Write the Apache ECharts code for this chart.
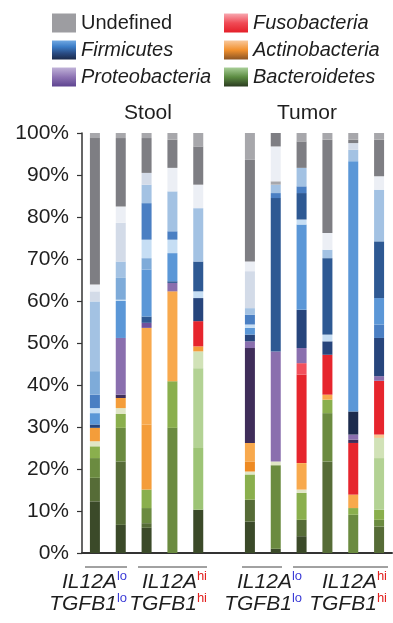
<!DOCTYPE html>
<html>
<head>
<meta charset="utf-8">
<script src="https://cdn.jsdelivr.net/npm/echarts@6/dist/echarts.min.js"></script>
<style>
  html, body { margin: 0; padding: 0; background: #fff; }
  #chart { width: 393px; height: 623px; }
</style>
</head>
<body>
<div id="chart"></div>
<script>
// Sample slots along the x axis; the empty slot separates stool from tumor samples.
const categories = ['S1', 'S2', 'S3', 'S4', 'S5', '', 'T1', 'T2', 'T3', 'T4', 'T5', 'T6'];

// Phylum legend entries
const phyla = ['Undefined', 'Firmicutes', 'Proteobacteria', 'Fusobacteria', 'Actinobacteria', 'Bacteroidetes'];

// Per-sample taxa (bottom to top) and their relative abundance in %.
// Letter = phylum (U Undefined, F Firmicutes, P Proteobacteria, R Fusobacteria,
// A Actinobacteria, G Bacteroidetes), suffix = lower-level taxon within it.
const stool1Taxa = ['G6', 'G5', 'G4', 'G3', 'G0', 'A2', 'F8', 'F5', 'F2', 'F6', 'F4', 'F3', 'F1', 'F0', 'U2', 'U1'];
const stool1Pct  = [12.3, 5.6, 4.7, 2.8, 1.2, 3.2, 0.8, 2.7, 1.2, 3.2, 5.6, 16.6, 2.4, 1.6, 34.9, 1.2];

const stool2Taxa = ['G6', 'G5', 'G4', 'G3', 'G0', 'A2', 'P2', 'P1', 'F5', 'F2', 'F4', 'F3', 'F1', 'F0', 'U2', 'U1'];
const stool2Pct  = [6.7, 15.1, 8.0, 3.3, 1.4, 2.4, 0.8, 13.5, 8.8, 0.3, 5.2, 3.9, 9.2, 3.9, 16.3, 1.2];

const stool3Taxa = ['G6', 'G5', 'G4', 'G3', 'A2', 'A1', 'P3', 'F7', 'F5', 'F4', 'F2', 'F6', 'F3', 'F1', 'U2', 'U1'];
const stool3Pct  = [6.0, 1.1, 3.6, 4.4, 15.5, 23.0, 1.2, 1.5, 11.2, 2.7, 4.4, 8.7, 4.4, 2.8, 8.3, 1.2];

const stool4Taxa = ['G4', 'G3', 'A1', 'P1', 'F7', 'F5', 'F2', 'F6', 'F3', 'F0', 'U2', 'U1'];
const stool4Pct  = [29.8, 11.1, 21.4, 2.0, 0.4, 6.7, 3.2, 2.0, 9.5, 5.6, 6.7, 1.6];

const stool5Taxa = ['G6', 'Gm', 'Gl', 'Gp', 'A2', 'R2', 'F8', 'F2', 'F7', 'F3', 'F0', 'U2', 'U1'];
const stool5Pct  = [10.3, 14.7, 19.0, 4.0, 1.2, 6.0, 5.5, 1.6, 7.1, 12.7, 5.6, 9.1, 3.2];

const tumor1Taxa = ['G6', 'G5', 'G3', 'G0', 'A3', 'A1', 'P2', 'P1', 'F8', 'F5', 'F2', 'F6', 'F3', 'F1', 'F0', 'U2', 'U1'];
const tumor1Pct  = [7.5, 5.2, 6.0, 0.7, 2.4, 4.4, 22.6, 1.6, 1.6, 1.6, 0.8, 2.3, 1.6, 8.8, 2.3, 24.2, 6.4];

const tumor2Taxa = ['G6', 'G4', 'G0', 'P1', 'F7', 'F6', 'F3', 'U1', 'F0', 'U2'];
const tumor2Pct  = [1.0, 19.9, 0.9, 26.2, 36.5, 1.2, 2.0, 0.8, 8.3, 3.2];

const tumor3Taxa = ['G6', 'G5', 'G3', 'G0', 'A1', 'R2', 'R1', 'P1', 'F8', 'F5', 'F2', 'F7', 'F6', 'F3', 'U2', 'U1'];
const tumor3Pct  = [4.0, 3.9, 6.4, 0.8, 6.3, 21.1, 2.7, 3.6, 9.1, 20.3, 1.2, 6.3, 1.6, 4.4, 6.3, 2.0];

const tumor4Taxa = ['G5', 'G4', 'G3', 'A1', 'R2', 'F8', 'F2', 'F7', 'F3', 'F0', 'U2', 'U1'];
const tumor4Pct  = [21.8, 11.5, 3.2, 1.2, 9.5, 3.2, 1.6, 18.2, 2.0, 4.0, 22.2, 1.6];

const tumor5Taxa = ['G4', 'G3', 'A1', 'R2', 'P2', 'P1', 'F9', 'F5', 'F3', 'F1', 'U2', 'U1'];
const tumor5Pct  = [9.1, 1.6, 3.2, 12.3, 0.8, 1.2, 5.5, 59.6, 2.7, 1.6, 0.8, 1.6];

const tumor6Taxa = ['G5', 'G4', 'G3', 'Gl', 'Gp', 'A0', 'R2', 'P1', 'F8', 'F6', 'F5', 'F7', 'F3', 'F0', 'U2', 'U1'];
const tumor6Pct  = [6.3, 1.6, 2.4, 12.3, 4.8, 0.8, 12.8, 1.1, 9.1, 3.2, 6.3, 13.5, 12.3, 3.2, 8.7, 1.6];

// Y axis ticks
const yTicks = [0, 10, 20, 30, 40, 50, 60, 70, 80, 90, 100];

// Sample groups under the axis
const groupGene1 = ['lo', 'hi', 'lo', 'hi'];
const groupGene2 = ['lo', 'hi', 'lo', 'hi'];

// ---------- styling ----------
const shade = {
  U1: '#a7a7ab', U2: '#7e7e83',
  F0: '#eceff5', F1: '#d3dbe8', F2: '#c6def4', F3: '#a3c2e3', F4: '#7eabd9',
  F5: '#5b97d7', F6: '#4a7fc3', F7: '#2e5993', F8: '#27457c', F9: '#1c2b4d',
  P1: '#8a6fae', P2: '#3f2d5a', P3: '#6f519e',
  R1: '#f2505c', R2: '#e6252d',
  A0: '#f7c68e', A1: '#f8a94d', A2: '#f49d3a', A3: '#ee8a22',
  G0: '#e0e6c6', Gp: '#d1e2b7', Gl: '#b3d294', Gm: '#9dc476',
  G3: '#8aaf4d', G4: '#6b8b40', G5: '#566c37', G6: '#3b4a29'
};

const grad = (stops) => ({
  type: 'linear', x: 0, y: 0, x2: 0, y2: 1,
  colorStops: stops.map((c, i) => ({ offset: i / (stops.length - 1), color: c }))
});
const legendColor = {
  Undefined: grad(['#9d9da1', '#9d9da1']),
  Firmicutes: grad(['#6fa8e2', '#3b7cc6', '#2a4c84', '#1b2a4a']),
  Proteobacteria: grad(['#c0b2d8', '#8e74b4', '#5e4490']),
  Fusobacteria: grad(['#f7a8b0', '#f04a55', '#e41f29']),
  Actinobacteria: grad(['#f9c89c', '#f2912e', '#8c5424']),
  Bacteroidetes: grad(['#a9cf98', '#5c8c42', '#2b3b20'])
};

const FONT = 'Liberation Sans, Arial, sans-serif';
const TEXT = '#1e1e1e';

const samples = [
  [stool1Taxa, stool1Pct], [stool2Taxa, stool2Pct], [stool3Taxa, stool3Pct],
  [stool4Taxa, stool4Pct], [stool5Taxa, stool5Pct], null,
  [tumor1Taxa, tumor1Pct], [tumor2Taxa, tumor2Pct], [tumor3Taxa, tumor3Pct],
  [tumor4Taxa, tumor4Pct], [tumor5Taxa, tumor5Pct], [tumor6Taxa, tumor6Pct]
];
const depth = Math.max(...samples.filter(Boolean).map(s => s[1].length));

const series = [];
for (let k = 0; k < depth; k++) {
  series.push({
    type: 'bar',
    stack: 'abundance',
    barWidth: 10,
    silent: true,
    data: samples.map(s => {
      if (!s || k >= s[1].length) return '-';
      return { value: s[1][k], itemStyle: { color: shade[s[0][k]] } };
    })
  });
}
// Legend entries (no bars of their own)
phyla.forEach(name => {
  series.push({ type: 'bar', name, stack: 'abundance', barWidth: 10, data: [], itemStyle: { color: legendColor[name] } });
});

const legendItem = name => ({
  name, icon: 'rect',
  textStyle: { fontStyle: name === 'Undefined' ? 'normal' : 'italic' }
});
const legendBase = {
  orient: 'vertical', top: 8, itemWidth: 24, itemHeight: 19, itemGap: 7,
  selectedMode: false,
  textStyle: { fontSize: 20, color: TEXT, fontFamily: FONT }
};

// Group annotation: underline span and right edge of the label
const groupSpans = [[85, 127], [138, 207], [242, 282], [293, 388]];
const labelRight = [127, 207, 302, 387];
const supColor = { lo: '#3b3bd6', hi: '#e2201f' };

const graphic = [
  { type: 'text', style: { text: 'Stool', x: 148, y: 113, align: 'center', verticalAlign: 'middle', fontSize: 21, fontFamily: FONT, fill: TEXT } },
  { type: 'text', style: { text: 'Tumor', x: 307, y: 113, align: 'center', verticalAlign: 'middle', fontSize: 21, fontFamily: FONT, fill: TEXT } }
];

const richStyles = {
  g: { fontSize: 21, fontStyle: 'italic', fontFamily: FONT, fill: TEXT, color: TEXT, lineHeight: 24 },
  lo: { fontSize: 13, fontFamily: FONT, fill: supColor.lo, color: supColor.lo, verticalAlign: 'top', lineHeight: 13 },
  hi: { fontSize: 13, fontFamily: FONT, fill: supColor.hi, color: supColor.hi, verticalAlign: 'top', lineHeight: 13 }
};
groupSpans.forEach((sp, i) => {
  graphic.push({ type: 'line', shape: { x1: sp[0], y1: 567, x2: sp[1], y2: 567 }, style: { stroke: '#444', lineWidth: 1 } });
  graphic.push({ type: 'text', style: { text: '{g|IL12A}{' + groupGene1[i] + '|' + groupGene1[i] + '}', rich: richStyles, x: labelRight[i], y: 582, align: 'right', verticalAlign: 'middle' } });
  graphic.push({ type: 'text', style: { text: '{g|TGFB1}{' + groupGene2[i] + '|' + groupGene2[i] + '}', rich: richStyles, x: labelRight[i], y: 604, align: 'right', verticalAlign: 'middle' } });
});

const chart = echarts.init(document.getElementById('chart'), null, { renderer: 'canvas' });
chart.setOption({
  animation: false,
  backgroundColor: '#fff',
  grid: { left: 82, right: 1, top: 133, bottom: 70, containLabel: false },
  legend: [
    Object.assign({ left: 47, data: phyla.slice(0, 3).map(legendItem) }, legendBase),
    Object.assign({ left: 219, data: phyla.slice(3).map(legendItem) }, legendBase)
  ],
  xAxis: {
    type: 'category', data: categories, boundaryGap: true,
    axisLine: { lineStyle: { color: '#333', width: 2 } },
    axisTick: { show: false }, axisLabel: { show: false }, splitLine: { show: false }
  },
  yAxis: {
    type: 'value', min: yTicks[0], max: yTicks[yTicks.length - 1], interval: yTicks[1] - yTicks[0],
    axisLine: { show: true, lineStyle: { color: '#333', width: 1.5 } },
    axisTick: { show: true, length: 5, lineStyle: { color: '#333', width: 1.2 } },
    axisLabel: { fontSize: 21, color: TEXT, fontFamily: FONT, margin: 13, formatter: '{value}%' },
    splitLine: { show: false }
  },
  graphic,
  series
});
</script>
</body>
</html>
